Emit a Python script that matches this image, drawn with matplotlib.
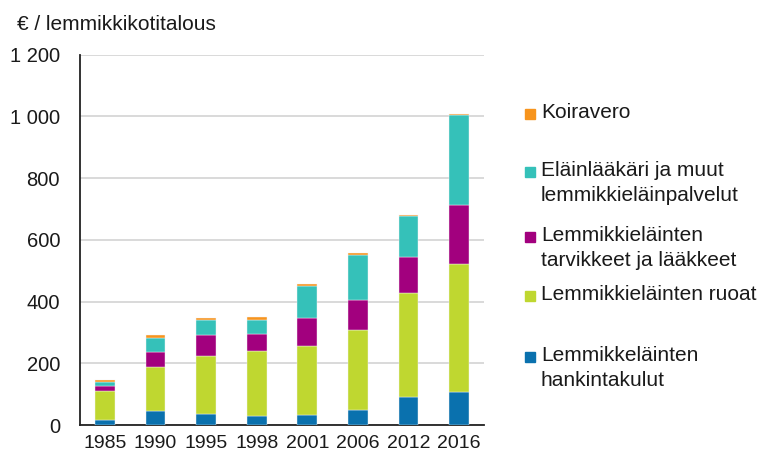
import matplotlib.pyplot as plt
import numpy as np

plt.rcParams['font.family'] = ['Liberation Sans', 'DejaVu Sans']

years = ["1985", "1990", "1995", "1998", "2001", "2006", "2012", "2016"]

# euros per pet-owning household, bottom to top
hankinta = [15, 46, 35, 29, 33, 49, 90, 106]
ruoat = [94, 141, 189, 210, 224, 260, 339, 417]
tarvikkeet = [16, 48, 67, 57, 89, 95, 116, 190]
palvelut = [16, 48, 49, 44, 104, 146, 131, 290]
koiravero = [6, 10, 6, 9, 6, 6, 5, 6]

series = [
    ("Lemmikkeläinten\nhankintakulut", hankinta, "#0A71AE"),
    ("Lemmikkieläinten ruoat", ruoat, "#BFD730"),
    ("Lemmikkieläinten\ntarvikkeet ja lääkkeet", tarvikkeet, "#A2007E"),
    ("Eläinlääkäri ja muut\nlemmikkieläinpalvelut", palvelut, "#35C1B9"),
    ("Koiravero", koiravero, "#F7941D"),
]

yticks = [0, 200, 400, 600, 800, 1000, 1200]
ytick_labels = ["0", "200", "400", "600", "800", "1 000", "1 200"]

fig = plt.figure(figsize=(7.61, 4.59), dpi=100)
ax = fig.add_axes([0.1045, 0.074, 0.532, 0.807])

x = np.arange(len(years))
bottom = np.zeros(len(years))
for label, vals, color in series:
    ax.bar(x, vals, 0.39, bottom=bottom, color=color,
           edgecolor="#f4f4f4", linewidth=0.3, zorder=3)
    bottom += np.array(vals)

ax.set_xlim(-0.5, len(years) - 0.5)
ax.set_ylim(0, 1200)
ax.set_yticks(yticks)
ax.set_yticklabels(ytick_labels, fontsize=14.5, color="#1a1a1a")
ax.set_xticks(x)
ax.set_xticklabels(years, fontsize=14, color="#1a1a1a")
ax.tick_params(axis="y", length=0, pad=14)
ax.tick_params(axis="x", length=0, pad=7)
ax.grid(axis="y", color="#D9D9D9", linewidth=1.4, zorder=0)
for s in ["top", "right"]:
    ax.spines[s].set_visible(False)
ax.spines["left"].set_color("#222222")
ax.spines["bottom"].set_color("#222222")
ax.spines["left"].set_linewidth(1.3)
ax.spines["bottom"].set_linewidth(1.3)

fig.text(17 / 761, 1 - 25 / 459, "€ / lemmikkikotitalous", fontsize=15,
         va="center", ha="left", color="#1a1a1a")

# legend, top-down, pixel y of first text line
legend_y = [114, 172, 237, 296, 357]
for (label, vals, color), yp in zip(series[::-1], legend_y):
    fy = 1 - yp / 459
    fig.patches.append(plt.Rectangle((525 / 761, fy - 5 / 459), 10 / 761, 10 / 459,
                                     transform=fig.transFigure, color=color))
    fig.text(541 / 761, fy + 11 / 459, label, fontsize=15, va="top", ha="left",
             color="#1a1a1a", linespacing=1.38)

fig.savefig("out.png", dpi=100)
